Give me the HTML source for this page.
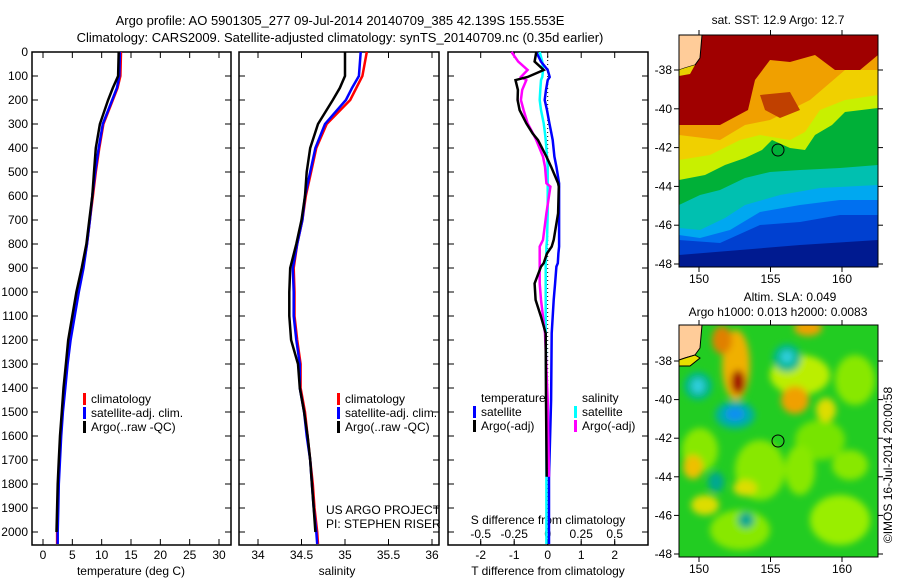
<!DOCTYPE html>
<html><head><meta charset="utf-8"><style>
body{margin:0;background:#fff;}
svg{display:block;font-family:"Liberation Sans",sans-serif;}
text{font-size:12px;fill:#000;}
</style></head><body>
<svg id="fig" width="900" height="580" viewBox="0 0 900 580">
<defs>
<filter id="bl" x="-50%" y="-50%" width="200%" height="200%"><feGaussianBlur stdDeviation="3.5"/></filter>
<clipPath id="c1"><rect x="679" y="35" width="199" height="232"/></clipPath>
<clipPath id="c2"><rect x="679" y="325" width="199" height="232"/></clipPath>
</defs>
<text x="340" y="25" text-anchor="middle" style="font-size:13px">Argo profile: AO 5901305_277 09-Jul-2014 20140709_385 42.139S 155.553E</text>
<text x="340" y="42" text-anchor="middle" style="font-size:13px">Climatology: CARS2009. Satellite-adjusted climatology: synTS_20140709.nc (0.35d earlier)</text>
<g id="axes"></g>
<g id="marks"></g>

<text x="778" y="24" text-anchor="middle">sat. SST: 12.9 Argo: 12.7</text>
<g clip-path="url(#c1)">
<rect x="679" y="35" width="199" height="232" fill="#001a90"/>
<polygon fill="#0040d0" points="679,255 740,250 800,245 878,240 878,35 679,35"/>
<polygon fill="#0070f0" points="679,240 720,243 760,225 800,222 840,215 878,215 878,35 679,35"/>
<polygon fill="#00a8f0" points="679,235 700,238 730,230 760,212 800,205 840,200 878,200 878,35 679,35"/>
<polygon fill="#00c0b0" points="679,228 700,230 725,218 745,205 780,195 820,188 878,185 878,35 679,35"/>
<polygon fill="#00b038" points="679,205 700,195 720,190 745,178 770,172 800,170 840,168 878,165 878,35 679,35"/>
<polygon fill="#c8f000" points="679,180 705,175 725,165 745,158 762,150 772,140 790,148 805,150 815,135 832,125 845,112 878,108 878,35 679,35"/>
<polygon fill="#f0d000" points="679,160 710,155 740,140 760,135 790,140 805,132 820,110 845,100 878,95 878,35 679,35"/>
<polygon fill="#f0a000" points="679,135 720,140 745,125 770,120 810,100 845,70 878,70 878,35 679,35"/>
<polygon fill="#a00000" points="679,35 878,35 878,55 860,70 835,70 815,55 790,62 770,60 755,80 748,110 720,125 700,125 679,125"/>
<polygon fill="#c04000" points="760,95 790,92 800,110 780,118 765,110"/>
<polygon fill="#ffcc99" stroke="#000" stroke-width="1" points="679,35 702,35 700,58 695,65 685,68 679,70"/>
<polygon fill="#e8d000" points="679,70 685,68 695,65 690,74 679,76"/>
<circle cx="778" cy="150" r="6" fill="none" stroke="#000" stroke-width="1"/>
</g>
<rect x="679" y="35" width="199" height="232" fill="none" stroke="#000"/>

<text x="790" y="301" text-anchor="middle">Altim. SLA: 0.049</text>
<text x="778" y="316" text-anchor="middle">Argo h1000: 0.013 h2000: 0.0083</text>
<g clip-path="url(#c2)">
<rect x="679" y="325" width="199" height="232" fill="#22cc22"/>
<g filter="url(#bl)">
<ellipse cx="700" cy="450" rx="18" ry="22" fill="#88e800"/>
<ellipse cx="760" cy="470" rx="25" ry="30" fill="#88e800"/>
<ellipse cx="840" cy="520" rx="30" ry="25" fill="#99ee00"/>
<ellipse cx="740" cy="530" rx="30" ry="20" fill="#88e800"/>
<ellipse cx="820" cy="440" rx="25" ry="20" fill="#77e400"/>
<ellipse cx="800" cy="375" rx="30" ry="20" fill="#bbee00"/>
<ellipse cx="855" cy="380" rx="20" ry="25" fill="#88e800"/>
<ellipse cx="800" cy="470" rx="15" ry="25" fill="#88e800"/>
<ellipse cx="850" cy="465" rx="18" ry="15" fill="#88e800"/>
<ellipse cx="693" cy="467" rx="10" ry="12" fill="#eec000"/>
<ellipse cx="705" cy="505" rx="14" ry="10" fill="#dddd00"/>
<ellipse cx="745" cy="488" rx="12" ry="8" fill="#dddd00"/>
<ellipse cx="795" cy="400" rx="14" ry="14" fill="#f0a000"/>
<ellipse cx="808" cy="328" rx="14" ry="8" fill="#f0a000"/>
<ellipse cx="826" cy="410" rx="10" ry="12" fill="#dddd00"/>
<ellipse cx="736" cy="365" rx="14" ry="35" fill="#f0b000"/>
<ellipse cx="722" cy="340" rx="10" ry="14" fill="#e08000"/>
<ellipse cx="738" cy="382" rx="7" ry="12" fill="#a01000"/>
<ellipse cx="698" cy="386" rx="14" ry="14" fill="#00b890"/>
<ellipse cx="698" cy="386" rx="6" ry="7" fill="#30d0e0"/>
<ellipse cx="787" cy="358" rx="14" ry="14" fill="#00b890"/>
<ellipse cx="787" cy="357" rx="6" ry="6" fill="#30d0e0"/>
<ellipse cx="735" cy="415" rx="20" ry="14" fill="#00b0a0"/>
<ellipse cx="735" cy="414" rx="10" ry="7" fill="#1090f0"/>
<ellipse cx="716" cy="482" rx="8" ry="10" fill="#00a890"/>
<ellipse cx="746" cy="520" rx="8" ry="8" fill="#00a890"/>
</g>
<polygon fill="#ffcc99" stroke="#000" stroke-width="1" points="679,325 702,325 700,348 695,355 685,358 679,360"/>
<polygon fill="#e8e000" stroke="#000" stroke-width="1" points="679,360 685,358 695,355 700,358 690,366 679,366"/>
<circle cx="778" cy="441" r="6" fill="none" stroke="#000" stroke-width="1"/>
</g>
<rect x="679" y="325" width="199" height="232" fill="none" stroke="#000"/>
<text transform="translate(892,465) rotate(-90)" text-anchor="middle">©IMOS 16-Jul-2014 20:00:58</text>
<g id="maptx"></g>
</svg>
<script>
const depthT = [0,100,150,200,300,400,500,600,700,800,900,1000,1100,1200,1300,1400,1500,1600,1700,1800,1900,2000,2050];
const tempClim = [13.3,13.2,12.7,11.9,10.3,9.6,9.0,8.5,8.0,7.5,6.8,6.0,5.3,4.6,4.1,3.7,3.3,3.0,2.8,2.6,2.5,2.4,2.4];
const tempSat  = [13.1,13.0,12.6,11.8,10.2,9.5,8.9,8.4,8.0,7.5,6.9,6.1,5.4,4.7,4.2,3.8,3.4,3.1,2.9,2.7,2.6,2.5,2.5];
const tempArgo = [12.9,12.8,11.9,11.1,9.7,9.0,8.7,8.4,7.9,7.4,6.6,5.7,5.0,4.3,3.9,3.5,3.2,2.9,2.7,2.5,2.4,2.3];
const salClim = [35.25,35.2,35.13,35.06,34.79,34.67,34.61,34.55,34.51,34.45,34.41,34.42,34.42,34.45,34.49,34.49,34.54,34.57,34.6,34.63,34.65,34.68,34.69];
const salSat  = [35.18,35.16,35.08,35.01,34.77,34.66,34.6,34.54,34.51,34.45,34.4,34.41,34.41,34.44,34.48,34.48,34.53,34.56,34.6,34.62,34.64,34.67,34.68];
const salArgo = [35.0,35.0,34.94,34.86,34.69,34.6,34.56,34.54,34.5,34.44,34.37,34.36,34.36,34.38,34.46,34.48,34.53,34.57,34.6,34.62,34.64,34.66];
const depthD = [0,40,75,104,117,158,200,242,297,339,367,436,478,547,561,672,783,811,839,880,894,964,1033,1103,1172,1450,1770,2050];
const dTsat  = [-0.34,-0.2,0.0,0.06,0.0,-0.05,-0.09,-0.02,0.05,0.11,0.15,0.2,0.26,0.34,0.34,0.34,0.34,0.34,0.32,0.3,0.26,0.22,0.18,0.15,0.12,0.1,0.04,0.04];
const dTargo = [-0.34,-0.39,-0.12,-0.6,-0.96,-0.89,-0.9,-0.84,-0.64,-0.45,-0.29,-0.04,0.1,0.31,0.33,0.31,0.18,0.12,-0.02,-0.12,-0.2,-0.39,-0.36,-0.2,-0.06,-0.05,-0.03];
const dSsat  = [-0.06,-0.04,-0.035,-0.04,-0.05,-0.055,-0.06,-0.05,-0.03,-0.02,-0.015,-0.005,0.0,0.0,0.0,0.0,-0.005,-0.01,-0.01,-0.015,-0.015,-0.015,-0.015,-0.015,-0.015,-0.01,-0.01,-0.01];
const dSargo = [-0.27,-0.22,-0.15,-0.2,-0.16,-0.19,-0.2,-0.18,-0.15,-0.11,-0.085,-0.035,-0.02,-0.01,0.02,-0.01,-0.035,-0.06,-0.06,-0.06,-0.06,-0.06,-0.05,-0.035,-0.02,0.0,0.01];
const depthTicks = [0,100,200,300,400,500,600,700,800,900,1000,1100,1200,1300,1400,1500,1600,1700,1800,1900,2000];
const tTicks = [0,5,10,15,20,25,30];
const sTicks = [34,34.5,35,35.5,36];
const dtTicks = [-2,-1,0,1,2];
const dsTicks = [-0.5,-0.25,0,0.25,0.5];
const latTicks = [-38,-40,-42,-44,-46,-48];
const lonTicks = [150,155,160];

const NS='http://www.w3.org/2000/svg';
const axesG=document.getElementById('axes'), marksG=document.getElementById('marks'), mapG=document.getElementById('maptx');
function mk(tag,attrs,parent,txt){const e=document.createElementNS(NS,tag);for(const k in attrs)e.setAttribute(k,attrs[k]);if(txt!==undefined)e.textContent=txt;parent.appendChild(e);return e;}
const yD=d=>52+d*0.24;
const xT=t=>43+t*5.867;
const xS=s=>258+(s-34)*87;
const xDT=v=>547.7+v*33.5;
const xDS=v=>547.7+v*134;
const yTop=52,yBot=545;
function frame(x0,x1,name){const r=mk('rect',{x:x0,y:yTop,width:x1-x0,height:yBot-yTop,fill:'none',stroke:'#000','stroke-width':1.5},axesG);


depthTicks.forEach(d=>{mk('line',{x1:x0,x2:x0+6,y1:yD(d),y2:yD(d),stroke:'#000'},axesG);mk('line',{x1:x1,x2:x1-6,y1:yD(d),y2:yD(d),stroke:'#000'},axesG);});}
frame(32,231,'temperature-panel');frame(239,439,'salinity-panel');frame(448,648,'difference-panel');
depthTicks.forEach(d=>{const t=mk('text',{x:28,y:yD(d)+4,'text-anchor':'end'},axesG,String(d));

});
function xticks(arr,fx,y0){arr.forEach(v=>{const x=fx(v);mk('line',{x1:x,x2:x,y1:yBot,y2:yBot-6,stroke:'#000'},axesG);mk('line',{x1:x,x2:x,y1:yTop,y2:yTop+6,stroke:'#000'},axesG);
const t=mk('text',{x:x,y:y0,'text-anchor':'middle'},axesG,String(v));

});}
xticks(tTicks,xT,559);xticks(sTicks,xS,559);xticks(dtTicks,xDT,559);
dsTicks.forEach(v=>{const x=xDS(v);mk('line',{x1:x,x2:x,y1:yBot,y2:yBot-4,stroke:'#000'},axesG);
const t=mk('text',{x:x,y:538,'text-anchor':'middle'},axesG,String(v));

});
function lab(x,y,s,name,anchor){const t=mk('text',{x:x,y:y,'text-anchor':anchor||'middle'},axesG,s);

}
lab(131,575,'temperature (deg C)','x-axis-title-temperature');
lab(337,575,'salinity','x-axis-title-salinity');
lab(548,575,'T difference from climatology','x-axis-title-t-diff');
lab(548,524,'S difference from climatology','x-axis-title-s-diff');
lab(326,514,'US ARGO PROJECT','project-label','start');
lab(326,528,'PI: STEPHEN RISER','pi-label','start');
mk('line',{x1:xDT(0),x2:xDT(0),y1:yTop,y2:yBot,stroke:'#000','stroke-dasharray':'1,3'},axesG);
function line(xs,ds,fx,col,name,w){let p='';const n=Math.min(xs.length,ds.length);for(let i=0;i<n;i++){const x=fx(xs[i]).toFixed(1),y=yD(ds[i]).toFixed(1);p+=(i?' ':'')+x+','+y;}
const e=mk('polyline',{points:p,fill:'none',stroke:col,'stroke-width':w||2.5,'stroke-linejoin':'miter'},marksG);

}
line(tempClim,depthT,xT,'#f00','temp-climatology-line');
line(tempSat,depthT,xT,'#00f','temp-satellite-line');
line(tempArgo,depthT,xT,'#000','temp-argo-line');
line(salClim,depthT,xS,'#f00','sal-climatology-line');
line(salSat,depthT,xS,'#00f','sal-satellite-line');
line(salArgo,depthT,xS,'#000','sal-argo-line');
line(dSsat,depthD,xDS,'#00ffff','s-diff-satellite-line');
line(dTsat,depthD,xDT,'#00f','t-diff-satellite-line');
line(dSargo,depthD,xDS,'#ff00ff','s-diff-argo-line');
line(dTargo,depthD,xDT,'#000','t-diff-argo-line');
function leg(x,y,col,s,name){mk('rect',{x:x,y:y-10,width:3,height:12,fill:col},axesG);
const t=mk('text',{x:x+8,y:y},axesG,s);

}
[[83,'temp'],[337,'sal']].forEach(([bx,n])=>{
leg(bx,403,'#f00','climatology',n+'-legend-climatology');
leg(bx,417,'#00f','satellite-adj. clim.',n+'-legend-satellite');
leg(bx,431,'#000','Argo(..raw -QC)',n+'-legend-argo');});
lab(481,402,'temperature','diff-legend-temperature-header','start');
lab(582,402,'salinity','diff-legend-salinity-header','start');
leg(473,416,'#00f','satellite','diff-legend-t-satellite');
leg(473,430,'#000','Argo(-adj)','diff-legend-t-argo');
leg(574,416,'#00ffff','satellite','diff-legend-s-satellite');
leg(574,430,'#ff00ff','Argo(-adj)','diff-legend-s-argo');
[[35,267,70,19.4],[325,557,361,19.3]].forEach(([t0,t1,y38,py])=>{
latTicks.forEach(l=>{const y=y38+(-38-l)*py;mk('line',{x1:679,x2:674,y1:y,y2:y,stroke:'#000'},mapG);mk('line',{x1:878,x2:883,y1:y,y2:y,stroke:'#000'},mapG);
const t=mk('text',{x:672,y:y+4,'text-anchor':'end'},mapG,String(l));

});
lonTicks.forEach(l=>{const x=699+(l-150)*14.3;mk('line',{x1:x,x2:x,y1:t1,y2:t1+5,stroke:'#000'},mapG);mk('line',{x1:x,x2:x,y1:t0,y2:t0-5,stroke:'#000'},mapG);
const t=mk('text',{x:x,y:t1+16,'text-anchor':'middle'},mapG,String(l));

});});
</script>
</body></html>
